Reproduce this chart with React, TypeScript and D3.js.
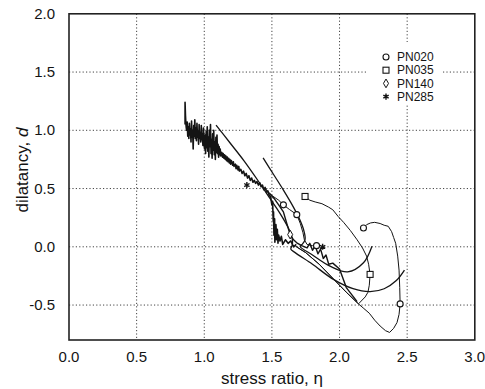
import React from "react";
import * as d3 from "d3";

const W = 485;
const H = 389;

// axis ticks
const etaTicks = [0, 0.5, 1.0, 1.5, 2.0, 2.5, 3.0];
const dTicks = [-0.5, 0, 0.5, 1.0, 1.5, 2.0];

// legend
const seriesNames = ["PN020", "PN035", "PN140", "PN285"];
const seriesSymbols = ["circle", "square", "diamond", "star"];

// experimental paths [eta, d]; NaN breaks a path
const pn285Path: [number, number][] = [
  [0.858, 1.05], [0.858, 1.24], [0.861, 1.13], [0.864, 1.06], [0.867, 1.02],
  [0.87, 1.0], [0.874, 1.07], [0.878, 0.95], [0.882, 1.03], [0.886, 0.93], [0.89, 1.06],
  [0.894, 0.96], [0.898, 1.01], [0.902, 0.9], [0.906, 1.08], [0.91, 0.94], [0.914, 1.0],
  [0.918, 0.84], [0.922, 1.04], [0.926, 0.95], [0.93, 1.09], [0.934, 0.93], [0.938, 1.02],
  [0.942, 0.91], [0.946, 1.06], [0.95, 0.94], [0.954, 0.99], [0.958, 0.88], [0.962, 1.05],
  [0.966, 0.93], [0.97, 0.98], [0.974, 0.9], [0.978, 1.04], [0.982, 0.92], [0.986, 0.97],
  [0.99, 0.87], [0.994, 1.02], [0.998, 0.9], [1.002, 0.84], [1.006, 0.96], [1.01, 0.8],
  [1.014, 0.99], [1.018, 0.85], [1.022, 1.03], [1.026, 0.82], [1.03, 0.94], [1.034, 0.77],
  [1.038, 1.0], [1.042, 0.86], [1.046, 1.05], [1.05, 0.8], [1.054, 0.92], [1.058, 0.76],
  [1.062, 0.97], [1.066, 0.83], [1.07, 1.0], [1.074, 0.79], [1.078, 0.9], [1.082, 0.75],
  [1.086, 0.94], [1.09, 0.81], [1.094, 0.96], [1.098, 0.8], [1.102, 0.88], [1.106, 0.77],
  [1.11, 0.86], [1.114, 0.79], [1.118, 0.84], [1.122, 0.78],
  [1.13, 0.81], [1.135, 0.77], [1.14, 0.8], [1.145, 0.76], [1.15, 0.79], [1.155, 0.75],
  [1.16, 0.78], [1.165, 0.74], [1.17, 0.77], [1.175, 0.73], [1.18, 0.76], [1.185, 0.72],
  [1.19, 0.75], [1.195, 0.71], [1.2, 0.74], [1.21, 0.7], [1.215, 0.73], [1.22, 0.69],
  [1.23, 0.71], [1.235, 0.67], [1.24, 0.7], [1.25, 0.66], [1.255, 0.69], [1.26, 0.65],
  [1.27, 0.665], [1.28, 0.63], [1.29, 0.65], [1.3, 0.61], [1.31, 0.63], [1.32, 0.59],
  [1.33, 0.61], [1.34, 0.57], [1.35, 0.59], [1.36, 0.555], [1.37, 0.57], [1.38, 0.545],
  [1.39, 0.56], [1.4, 0.53], [1.41, 0.55], [1.42, 0.515], [1.43, 0.53], [1.44, 0.49],
  [1.45, 0.51], [1.46, 0.47], [1.47, 0.48], [1.48, 0.44], [1.49, 0.43],
  [1.5, 0.36], [1.505, 0.39], [1.51, 0.22], [1.512, 0.3], [1.515, 0.1], [1.52, 0.24],
  [1.522, 0.04], [1.53, 0.19], [1.535, 0.06], [1.54, 0.15], [1.545, 0.03], [1.55, 0.1],
  [1.56, 0.05], [1.57, 0.09], [1.58, 0.02], [1.6, 0.06], [1.62, 0.03], [1.64, 0.05],
  [1.66, 0.0], [1.68, 0.02],
];

const pn140Path: [number, number][] = [
  [1.48, 0.46], [1.52, 0.41], [1.55, 0.36], [1.585, 0.3], [1.61, 0.2], [1.635, 0.105],
  [1.66, 0.06], [1.684, 0.034], [1.72, 0.01], [1.76, -0.01], [1.78, 0.03], [1.8, -0.03],
  [1.82, 0.01], [1.84, -0.06], [1.86, -0.02], [1.88, -0.1], [1.9, -0.07], [1.92, -0.15],
  [1.95, -0.14], [2.0, -0.19], [2.05, -0.35], [2.13, -0.47],
];

const pn020Path: [number, number][] = [
  [1.45, 0.5], [1.5, 0.44], [1.55, 0.4], [1.585, 0.36], [1.63, 0.32], [1.684, 0.276],
  [1.71, 0.2], [1.73, 0.12], [1.74, 0.06], [1.76, 0.02], [1.8, 0.01], [1.85, 0.005],
  [NaN, NaN],
  [2.177, 0.162], [2.2, 0.19], [2.23, 0.205], [2.26, 0.21], [2.3, 0.2], [2.33, 0.185],
  [2.36, 0.176], [2.385, 0.13], [2.4, 0.08], [2.415, 0.03], [2.43, -0.08], [2.44, -0.2],
  [2.445, -0.35], [2.448, -0.49], [2.44, -0.58], [2.425, -0.65], [2.4, -0.7], [2.37, -0.735],
  [2.34, -0.72], [2.3, -0.68], [2.26, -0.63], [2.22, -0.57], [2.18, -0.53], [2.14, -0.49],
  [2.05, -0.39], [1.95, -0.27], [1.85, -0.15], [1.75, -0.05], [1.68, 0.0],
];

const pn035Path: [number, number][] = [
  [1.745, 0.432], [1.78, 0.4], [1.82, 0.385], [1.87, 0.37], [1.92, 0.34], [1.95, 0.318],
  [1.99, 0.26], [2.03, 0.21], [2.08, 0.14], [2.13, 0.06], [2.17, -0.01], [2.2, -0.08],
  [2.215, -0.15], [2.226, -0.237], [2.22, -0.33], [2.21, -0.39], [2.19, -0.43], [2.14, -0.49],
  [2.05, -0.39], [1.95, -0.27], [1.85, -0.15], [1.75, -0.05], [1.67, 0.01],
];

// markers on the experimental paths
const pn020Marks: [number, number][] = [[1.585, 0.36], [1.684, 0.276], [1.83, 0.01], [2.177, 0.162], [2.448, -0.49]];
const pn035Marks: [number, number][] = [[1.745, 0.432], [2.226, -0.237]];
const pn140Marks: [number, number][] = [[1.635, 0.105]];
const pn285Marks: [number, number][] = [[1.315, 0.53], [1.875, 0.0]];

// model (smooth) curves
const modelA: [number, number][] = [
  [1.087, 1.045], [1.191, 0.891], [1.294, 0.738], [1.398, 0.567], [1.487, 0.413],
  [1.561, 0.285], [1.62, 0.165], [1.649, 0.079], [1.652, 0.02], [1.64, -0.02], [1.672, -0.05],
  [1.8, -0.15], [1.955, -0.28], [2.1, -0.36], [2.226, -0.385], [2.33, -0.36], [2.42, -0.29], [2.48, -0.2],
];
const modelB: [number, number][] = [
  [1.435, 0.763], [1.509, 0.627], [1.583, 0.491], [1.657, 0.345], [1.709, 0.225],
  [1.738, 0.131], [1.745, 0.062], [1.723, 0.02], [1.709, 0.003],
  [1.8, -0.07], [1.93, -0.166], [2.06, -0.215], [2.177, -0.137], [2.24, 0.005],
];

const x = d3.scaleLinear().domain([0, 3]).range([69, 474.8]);
const y = d3.scaleLinear().domain([-0.8, 2.0]).range([340, 13.8]);

const lineGen = d3
  .line<[number, number]>()
  .defined((p) => !isNaN(p[0]))
  .x((p) => x(p[0]))
  .y((p) => y(p[1]));

const smoothGen = d3
  .line<[number, number]>()
  .x((p) => x(p[0]))
  .y((p) => y(p[1]))
  .curve(d3.curveCatmullRom.alpha(0.5));

const INK = "#141414";
const FONT = "'Liberation Sans', Arial, Helvetica, sans-serif";

function Marker({ kind, cx, cy }: { kind: string; cx: number; cy: number }) {
  if (kind === "circle")
    return <circle cx={cx} cy={cy} r={3} fill="#fff" stroke={INK} strokeWidth={1.1} />;
  if (kind === "square")
    return <rect x={cx - 3} y={cy - 3} width={6} height={6} fill="#fff" stroke={INK} strokeWidth={1.1} />;
  if (kind === "diamond")
    return (
      <path
        d={d3.symbol(d3.symbolDiamond, 22)() || ""}
        transform={`translate(${cx},${cy})`}
        fill="#fff"
        stroke={INK}
        strokeWidth={1}
      />
    );
  return (
    <path
      d={d3.symbol(d3.symbolAsterisk, 26)() || ""}
      transform={`translate(${cx},${cy})`}
      fill="none"
      stroke={INK}
      strokeWidth={1.4}
    />
  );
}

export default function App() {
  const [x0, x1] = x.range();
  const [y0, y1] = y.range();
  const legendX = 386;
  const legendY0 = 57;
  const legendDy = 13.2;
  return (
    <div style={{ position: "absolute", left: 0, top: 0 }}>
      <svg width={W} height={H} style={{ display: "block", background: "#fff" }}>
        {/* grid */}
        {etaTicks.slice(1, -1).map((t) => (
          <line key={"gx" + t} x1={x(t)} x2={x(t)} y1={y1} y2={y0} stroke="#444" strokeWidth={1} strokeDasharray="1.2,2.2" />
        ))}
        {dTicks.slice(0, -1).map((t) => (
          <line key={"gy" + t} x1={x0} x2={x1} y1={y(t)} y2={y(t)} stroke="#444" strokeWidth={1} strokeDasharray="1.2,2.2" />
        ))}

        {/* legend box (masks grid) */}
        <rect x={366} y={42} width={76} height={62} fill="#fff" />
        {seriesNames.map((n, i) => (
          <g key={n}>
            <Marker kind={seriesSymbols[i]} cx={legendX} cy={legendY0 + i * legendDy} />
            <text x={397} y={legendY0 + i * legendDy + 4.2} fontSize={12} fontFamily={FONT} fill={INK}>
              {n}
            </text>
          </g>
        ))}

        {/* model curves */}
        <path d={smoothGen(modelA) || ""} fill="none" stroke={INK} strokeWidth={1.3} />
        <path d={smoothGen(modelB) || ""} fill="none" stroke={INK} strokeWidth={1.3} />

        {/* experimental paths */}
        <path d={lineGen(pn285Path) || ""} fill="none" stroke={INK} strokeWidth={1.6} strokeLinejoin="round" />
        <path d={lineGen(pn140Path) || ""} fill="none" stroke={INK} strokeWidth={1.4} strokeLinejoin="round" />
        <path d={lineGen(pn020Path) || ""} fill="none" stroke={INK} strokeWidth={1.0} strokeLinejoin="round" />
        <path d={lineGen(pn035Path) || ""} fill="none" stroke={INK} strokeWidth={1.0} strokeLinejoin="round" />

        {pn020Marks.map((p, i) => (
          <Marker key={"m20" + i} kind="circle" cx={x(p[0])} cy={y(p[1])} />
        ))}
        {pn035Marks.map((p, i) => (
          <Marker key={"m35" + i} kind="square" cx={x(p[0])} cy={y(p[1])} />
        ))}
        {pn140Marks.map((p, i) => (
          <Marker key={"m140" + i} kind="diamond" cx={x(p[0])} cy={y(p[1])} />
        ))}
        {pn285Marks.map((p, i) => (
          <Marker key={"m285" + i} kind="star" cx={x(p[0])} cy={y(p[1])} />
        ))}

        {/* frame */}
        <rect x={x0} y={y1} width={x1 - x0} height={y0 - y1} fill="none" stroke="#222" strokeWidth={1.6} />

        {/* tick labels */}
        {etaTicks.map((t) => (
          <text key={"tx" + t} x={x(t)} y={362} textAnchor="middle" fontSize={15} fontFamily={FONT} fill={INK}>
            {t.toFixed(1)}
          </text>
        ))}
        {dTicks.map((t) => (
          <text key={"ty" + t} x={55} y={y(t) + 5} textAnchor="end" fontSize={15} fontFamily={FONT} fill={INK}>
            {t.toFixed(1)}
          </text>
        ))}

        {/* axis titles */}
        <text x={272} y={384} textAnchor="middle" fontSize={17} fontFamily={FONT} fill={INK}>
          stress ratio, η
        </text>
        <text
          transform={`translate(28,${170}) rotate(-90)`}
          textAnchor="middle"
          fontSize={17}
          fontFamily={FONT}
          fill={INK}
        >
          dilatancy, <tspan fontStyle="italic">d</tspan>
        </text>
      </svg>
    </div>
  );
}
